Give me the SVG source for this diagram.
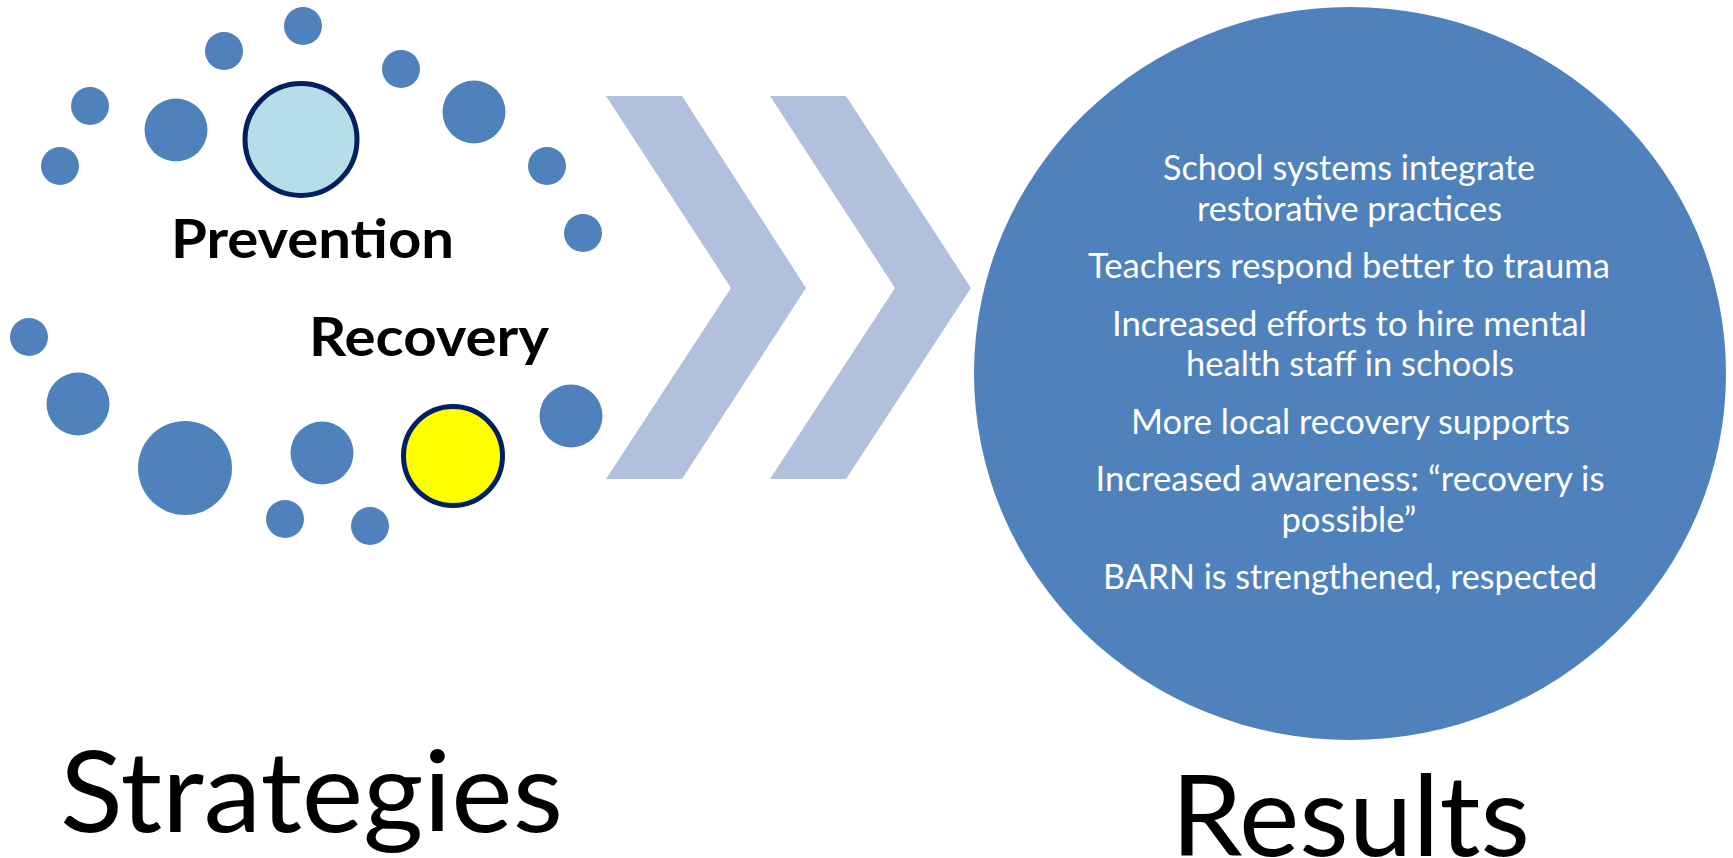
<svg xmlns="http://www.w3.org/2000/svg" width="1733" height="858" viewBox="0 0 1733 858">
<style>
.dot{fill:#4f81bd}
.key{stroke:#002060;stroke-width:5}
.chev{fill:#b1c1dd}
.lbl{font-family:Lato,"Liberation Sans",sans-serif;font-weight:bold;font-size:54px;fill:#000}
.res{font-family:Lato,"Liberation Sans",sans-serif;font-size:35px;fill:#fff;text-anchor:middle}
.title{font-family:Lato,"Liberation Sans",sans-serif;font-size:112px;fill:#000}
</style>
<rect width="1733" height="858" fill="#fff"/>
<g id="dots">
<circle class="dot" cx="303" cy="26" r="19"/>
<circle class="dot" cx="224" cy="51" r="19"/>
<circle class="dot" cx="401" cy="69" r="19"/>
<circle class="dot" cx="90" cy="106" r="19"/>
<circle class="dot" cx="176" cy="130" r="31.5"/>
<circle class="dot" cx="474" cy="112" r="31.5"/>
<circle class="dot" cx="60" cy="166" r="19"/>
<circle class="dot" cx="547" cy="166" r="19"/>
<circle class="dot" cx="583" cy="233" r="19"/>
<circle class="dot" cx="29" cy="337" r="19"/>
<circle class="dot" cx="78" cy="404" r="31.5"/>
<circle class="dot" cx="185" cy="468" r="47"/>
<circle class="dot" cx="322" cy="453" r="31.5"/>
<circle class="dot" cx="571" cy="416" r="31.5"/>
<circle class="dot" cx="285" cy="519" r="19"/>
<circle class="dot" cx="370" cy="526" r="19"/>
</g>
<g id="prevention">
<circle class="key" cx="301" cy="139.5" r="56" fill="#b7dde8"/>
<text class="lbl" x="171" y="258" textLength="283" lengthAdjust="spacingAndGlyphs">Prevention</text>
</g>
<g id="recovery">
<circle class="key" cx="453" cy="456" r="49.5" fill="#ffff00"/>
<text class="lbl" x="309" y="356" textLength="240" lengthAdjust="spacingAndGlyphs">Recovery</text>
</g>
<g id="connectors">
<polygon class="chev" points="606,96 682,96 806,288 682,479 606,479 731,288"/>
<polygon class="chev" points="770,96 846,96 971,288 846,479 770,479 895,288"/>
</g>
<g id="results">
<ellipse cx="1350" cy="373.5" rx="376" ry="366.5" fill="#4f81bd"/>
<text class="res" x="1349" y="180" textLength="372" lengthAdjust="spacingAndGlyphs">School systems integrate</text>
<text class="res" x="1349.5" y="220.5" textLength="305" lengthAdjust="spacingAndGlyphs">restorative practices</text>
<text class="res" x="1349" y="278" textLength="522" lengthAdjust="spacingAndGlyphs">Teachers respond better to trauma</text>
<text class="res" x="1349.5" y="335.5" textLength="475" lengthAdjust="spacingAndGlyphs">Increased efforts to hire mental</text>
<text class="res" x="1350" y="376" textLength="328" lengthAdjust="spacingAndGlyphs">health staff in schools</text>
<text class="res" x="1350.5" y="433.5" textLength="439" lengthAdjust="spacingAndGlyphs">More local recovery supports</text>
<text class="res" x="1350" y="491" textLength="509" lengthAdjust="spacingAndGlyphs">Increased awareness: “recovery is</text>
<text class="res" x="1349" y="531.5" textLength="135" lengthAdjust="spacingAndGlyphs">possible”</text>
<text class="res" x="1350" y="589" textLength="494" lengthAdjust="spacingAndGlyphs">BARN is strengthened, respected</text>
</g>
<g id="strategies-title">
<text class="title" x="60" y="832" textLength="503" lengthAdjust="spacingAndGlyphs">Strategies</text>
</g>
<g id="results-title">
<text class="title" x="1171" y="856" textLength="359" lengthAdjust="spacingAndGlyphs">Results</text>
</g>
</svg>
